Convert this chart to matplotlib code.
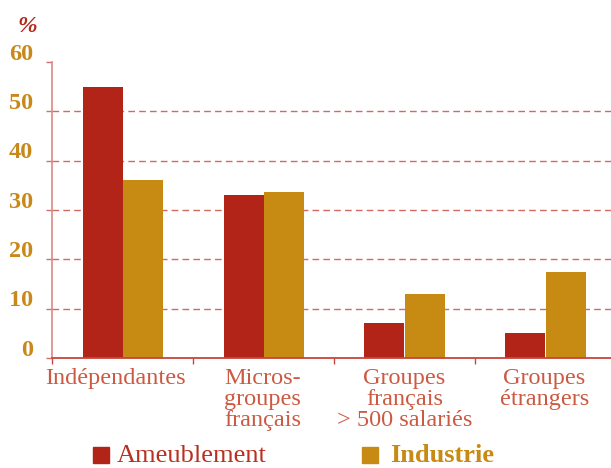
import matplotlib
matplotlib.use("Agg")
import matplotlib.pyplot as plt
import matplotlib.transforms as mtransforms
from matplotlib.patches import Rectangle

categories = ["Indépendantes", "Micros-\ngroupes\nfrançais",
              "Groupes\nfrançais\n> 500 salariés", "Groupes\nétrangers"]
ameublement = [55, 33, 7, 5]
industrie = [36, 33.7, 13, 17.5]
yticks = [0, 10, 20, 30, 40, 50, 60]
series_names = ["Ameublement", "Industrie"]

RED = "#b22318"
GOLD = "#c78a12"
LABEL_RED = "#cc5a42"
AXIS_RED = "#c9453a"
TICK_GOLD = "#c8891a"

plt.rcParams['font.family'] = ['Liberation Serif', 'DejaVu Serif']
plt.rcParams['lines.scale_dashes'] = False

W, H = 611, 468
fig = plt.figure(figsize=(W / 100, H / 100), dpi=100)
ax_left, ax_bottom_px, ax_top_px = 52, 358, 62
cat_px = 141
ax = fig.add_axes([ax_left / W, (H - ax_bottom_px) / H, (W - ax_left) / W,
                   (ax_bottom_px - ax_top_px) / H])
ax.set_xlim(0, (W - ax_left) / cat_px)
ax.set_ylim(0, 60)

bw = 40 / cat_px
xs = [i + 0.5 for i in range(len(categories))]
ax.bar([x - bw / 2 for x in xs], ameublement, width=bw, color=RED, zorder=3)
ax.bar([x + bw / 2 for x in xs], industrie, width=bw, color=GOLD, zorder=3)

for v in yticks[1:-1]:
    ax.axhline(v, color=AXIS_RED, lw=1.0, alpha=0.8, dashes=(4.8, 3.0), zorder=1)

for s in ['top', 'right']:
    ax.spines[s].set_visible(False)
ax.spines['left'].set_color("#d98a85")
ax.spines['left'].set_linewidth(1.2)
ax.spines['bottom'].set_color(AXIS_RED)
ax.spines['bottom'].set_linewidth(1.3)
ax.spines['bottom'].set_zorder(4)

ax.set_yticks(yticks)
ax.set_yticklabels([])
ax.tick_params(axis='y', direction='out', length=4.3, width=1.0, color="#d07070")
ax.set_xticks(range(len(categories)))
ax.set_xticklabels([])
ax.tick_params(axis='x', direction='out', length=4.3, width=1.0, color=AXIS_RED)

blend = mtransforms.blended_transform_factory(ax.transAxes, ax.transData)
ylab_tr = blend + mtransforms.ScaledTranslation(0, 8 / 100, fig.dpi_scale_trans)
for v in yticks:
    ax.text(-19 / (W - ax_left), v, str(v), transform=ylab_tr, ha='right',
            va='center', fontsize=17.5, fontweight='bold', color=TICK_GOLD)

fig.text(27 / W, 1 - 27 / H, "%", ha='center', va='center', fontsize=17,
         fontweight='bold', fontstyle='italic', color="#b5281c")

label_dx_px = [-7, -1, 0, -1]
for x, c, dx in zip(xs, categories, label_dx_px):
    tr = ax.transData + mtransforms.ScaledTranslation(dx / 100, -10 / 100, fig.dpi_scale_trans)
    ax.text(x, 0, c, transform=tr, ha='center', va='top', fontsize=17.5,
            color=LABEL_RED, linespacing=1.0)

# legend
sq = 16
for (x0, name, col, wt, tx) in [(93, series_names[0], RED, 'normal', 117),
                               (362, series_names[1], GOLD, 'bold', 390)]:
    fig.patches.append(Rectangle((x0 / W, 1 - 462.5 / H), sq / W, sq / H,
                                 transform=fig.transFigure, color=col))
    fig.text(tx / W, 1 - 461.5 / H, name, ha='left', va='baseline', fontsize=19,
             fontweight=wt, color=col if wt == 'bold' else "#b83020")

fig.savefig("out.png", dpi=100)
